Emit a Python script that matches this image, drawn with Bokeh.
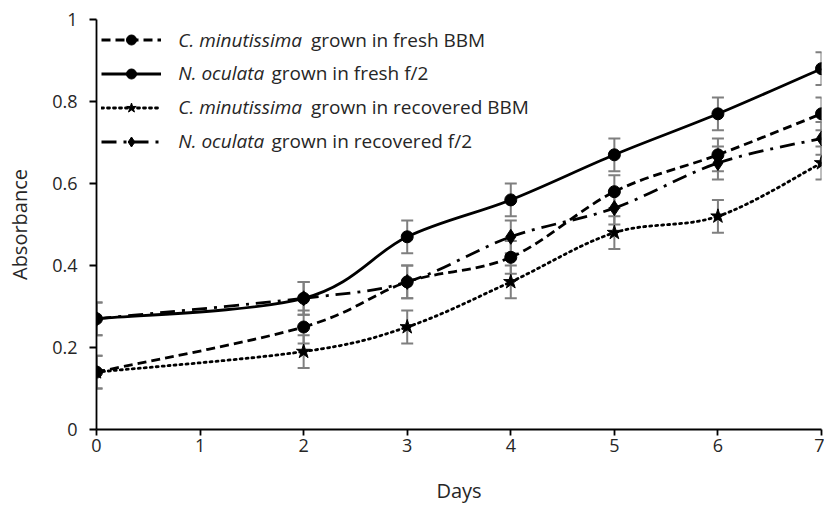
import numpy as np
from bokeh.plotting import figure
from bokeh.models import (Range1d, FixedTicker, CustomJSTickFormatter, ColumnDataSource,
                          Whisker, TeeHead, Legend, LegendItem, Label)
from bokeh.embed import file_html
from bokeh.resources import INLINE

# ---- data ----
days = [0, 2, 3, 4, 5, 6, 7]
cm_fresh = [0.14, 0.25, 0.36, 0.42, 0.58, 0.67, 0.77]
no_fresh = [0.27, 0.32, 0.47, 0.56, 0.67, 0.77, 0.88]
cm_recov = [0.14, 0.19, 0.25, 0.36, 0.48, 0.52, 0.65]
no_recov = [0.27, 0.32, 0.36, 0.47, 0.54, 0.65, 0.71]
err_cm_fresh = [0.04, 0.04, 0.04, 0.04, 0.04, 0.04, 0.04]
err_no_fresh = [0.04, 0.04, 0.04, 0.04, 0.04, 0.04, 0.04]
err_cm_recov = [0.04, 0.04, 0.04, 0.04, 0.04, 0.04, 0.04]
err_no_recov = [0.04, 0.04, 0.04, 0.04, 0.04, 0.04, 0.04]
x_ticks = [0, 1, 2, 3, 4, 5, 6, 7]
y_ticks = [0, 0.2, 0.4, 0.6, 0.8, 1.0]
species = ["C. minutissima", "N. oculata", "C. minutissima", "N. oculata"]
suffixes = ["grown in fresh BBM", "grown in fresh f/2",
            "grown in recovered BBM", "grown in recovered f/2"]

FONT = "Open Sans"
TXT = "#262626"

p = figure(width=824, height=506, output_backend="svg", toolbar_location=None,
           x_range=Range1d(0, 7), y_range=Range1d(0, 1),
           min_border_left=96, min_border_right=3, min_border_top=19, min_border_bottom=76)
p.outline_line_color = None
p.xgrid.visible = False
p.ygrid.visible = False
p.background_fill_color = "white"
p.border_fill_color = "white"

for ax in (p.xaxis[0], p.yaxis[0]):
    ax.axis_line_color = "black"
    ax.axis_line_width = 1.8
    ax.major_tick_line_color = "black"
    ax.major_tick_line_width = 1.8
    ax.minor_tick_line_color = None
    ax.major_tick_in = 0
    ax.major_label_text_font = FONT
    ax.major_label_text_font_size = "18px"
    ax.major_label_text_color = TXT
    ax.axis_label_text_font = FONT
    ax.axis_label_text_font_size = "20px"
    ax.axis_label_text_font_style = "normal"
    ax.axis_label_text_color = TXT

p.xaxis.ticker = FixedTicker(ticks=x_ticks)
p.yaxis.ticker = FixedTicker(ticks=y_ticks)
p.yaxis.formatter = CustomJSTickFormatter(code="return String(Math.round(tick*10)/10)")
p.xaxis.major_tick_out = 6
p.yaxis.major_tick_out = 7
p.xaxis.major_label_standoff = 3
p.yaxis.major_label_standoff = 12
p.xaxis.axis_label = "Days"
p.yaxis.axis_label = "Absorbance"
p.xaxis.axis_label_standoff = 22
p.yaxis.axis_label_standoff = 16


def bezier_source(x, y):
    x = np.asarray(x, float)
    y = np.asarray(y, float)
    xp = np.concatenate([[x[0]], x, [x[-1]]])
    yp = np.concatenate([[y[0]], y, [y[-1]]])
    d = dict(x0=[], y0=[], x1=[], y1=[], cx0=[], cy0=[], cx1=[], cy1=[])
    for i in range(len(x) - 1):
        P0x, P1x, P2x, P3x = xp[i], xp[i + 1], xp[i + 2], xp[i + 3]
        P0y, P1y, P2y, P3y = yp[i], yp[i + 1], yp[i + 2], yp[i + 3]
        d["x0"].append(P1x); d["y0"].append(P1y)
        d["x1"].append(P2x); d["y1"].append(P2y)
        d["cx0"].append(P1x + (P2x - P0x) / 6); d["cy0"].append(P1y + (P2y - P0y) / 6)
        d["cx1"].append(P2x - (P3x - P1x) / 6); d["cy1"].append(P2y - (P3y - P1y) / 6)
    return ColumnDataSource(d)


series = [
    (cm_fresh, err_cm_fresh, "9 5", "circle", 12),
    (no_fresh, err_no_fresh, "solid", "circle", 12),
    (cm_recov, err_cm_recov, "2 4", "star", 15),
    (no_recov, err_no_recov, "15 7 3 7", "diamond", 15),
]

for vals, errs, dash, marker, msize in series:
    upper = [v + e for v, e in zip(vals, errs)]
    lower = [v - e for v, e in zip(vals, errs)]
    esrc = ColumnDataSource(dict(x=days, upper=upper, lower=lower))
    w = Whisker(source=esrc, base="x", upper="upper", lower="lower",
                line_color="#7f7f7f", line_width=2,
                upper_head=TeeHead(size=12, line_color="#7f7f7f", line_width=2),
                lower_head=TeeHead(size=12, line_color="#7f7f7f", line_width=2))
    p.add_layout(w)

items = []
for vals, errs, dash, marker, msize in series:
    bsrc = bezier_source(days, vals)
    br = p.bezier(x0="x0", y0="y0", x1="x1", y1="y1", cx0="cx0", cy0="cy0",
                  cx1="cx1", cy1="cy1", source=bsrc, line_color="black",
                  line_width=2.8, line_dash=dash,
                  line_cap="round" if dash == "2 4" else "butt")
    sr = p.scatter(x=days, y=vals, marker=marker, size=msize, fill_color="black",
                   line_color="black")
    items.append(LegendItem(label=" ", renderers=[br, sr]))

legend = Legend(items=items, location="top_left", glyph_width=60, glyph_height=25,
                label_height=30, spacing=4, padding=5, margin=0,
                border_line_alpha=0, background_fill_alpha=0,
                label_standoff=0, label_text_font_size="1px")
p.add_layout(legend)

# legend texts (italic species + normal remainder)
row_y = [0.951, 0.869, 0.786, 0.703]
rest_x = [2.07, 1.69, 2.07, 1.69]
for sp, suf, yy, rx in zip(species, suffixes, row_y, rest_x):
    p.add_layout(Label(x=0.79, y=yy, text=sp, text_font=FONT, text_font_size="19px",
                       text_font_style="italic", text_color=TXT, text_baseline="middle"))
    p.add_layout(Label(x=rx, y=yy, text=suf, text_font=FONT, text_font_size="19px",
                       text_color=TXT, text_baseline="middle"))

open("out.html", "w").write(file_html(p, INLINE))
